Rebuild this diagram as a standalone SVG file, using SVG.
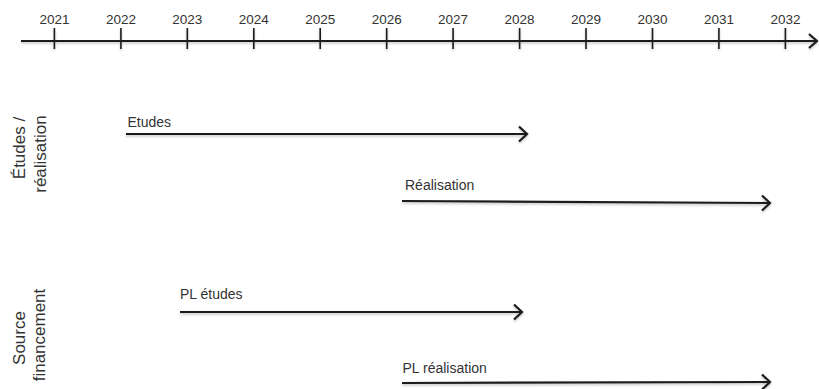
<svg xmlns="http://www.w3.org/2000/svg" width="819" height="389" viewBox="0 0 819 389">
  <defs>
    <style>
      .lbl { font-family: "Liberation Sans", Arial, sans-serif; fill: #333; }
      .yr { font-size: 13.5px; text-anchor: middle; }
      .bar { font-size: 14px; }
      .side { font-size: 17px; text-anchor: middle; }
      .ln { stroke: #1e1e1e; stroke-width: 2.2; fill: none; stroke-linecap: butt; }
      .tick { stroke: #1e1e1e; stroke-width: 1.6; }
      .head { stroke: #1e1e1e; stroke-width: 2.2; fill: none; stroke-linejoin: miter; }
    </style>
    <filter id="sh" x="-5%" y="-100%" width="110%" height="300%">
      <feDropShadow dx="0" dy="1.5" stdDeviation="1" flood-color="#000" flood-opacity="0.25"/>
    </filter>
  </defs>
  <rect width="819" height="389" fill="#fff"/>

  <g id="axis">
    <g class="lbl yr">
      <text x="54.4" y="24">2021</text>
      <text x="120.9" y="24">2022</text>
      <text x="187.3" y="24">2023</text>
      <text x="253.8" y="24">2024</text>
      <text x="320.2" y="24">2025</text>
      <text x="386.7" y="24">2026</text>
      <text x="453.1" y="24">2027</text>
      <text x="519.6" y="24">2028</text>
      <text x="586" y="24">2029</text>
      <text x="652.5" y="24">2030</text>
      <text x="718.9" y="24">2031</text>
      <text x="785.4" y="24">2032</text>
    </g>
    <g filter="url(#sh)">
      <line class="ln" x1="21" y1="41" x2="816" y2="41"/>
      <polyline class="head" points="809,34 817,41 809,48"/>
      <g class="tick">
        <line x1="54.4" y1="28" x2="54.4" y2="49"/>
        <line x1="120.9" y1="28" x2="120.9" y2="49"/>
        <line x1="187.3" y1="28" x2="187.3" y2="49"/>
        <line x1="253.8" y1="28" x2="253.8" y2="49"/>
        <line x1="320.2" y1="28" x2="320.2" y2="49"/>
        <line x1="386.7" y1="28" x2="386.7" y2="49"/>
        <line x1="453.1" y1="28" x2="453.1" y2="49"/>
        <line x1="519.6" y1="28" x2="519.6" y2="49"/>
        <line x1="586" y1="28" x2="586" y2="49"/>
        <line x1="652.5" y1="28" x2="652.5" y2="49"/>
        <line x1="718.9" y1="28" x2="718.9" y2="49"/>
        <line x1="785.4" y1="28" x2="785.4" y2="49"/>
      </g>
    </g>
  </g>

  <g id="row-etudes-realisation">
    <text class="lbl side" transform="translate(25,148) rotate(-90)">Études /</text>
    <text class="lbl side" transform="translate(46,154) rotate(-90)">réalisation</text>
  </g>

  <g id="row-source-financement">
    <text class="lbl side" transform="translate(25,338) rotate(-90)">Source</text>
    <text class="lbl side" transform="translate(45,335) rotate(-90)">financement</text>
  </g>

  <g id="bar-etudes">
    <text class="lbl bar" x="127.5" y="127">Etudes</text>
  </g>
  <g id="bar-realisation">
    <text class="lbl bar" x="405" y="189.5">Réalisation</text>
  </g>
  <g id="bar-pl-etudes">
    <text class="lbl bar" x="180" y="299">PL études</text>
  </g>
  <g id="bar-pl-realisation">
    <text class="lbl bar" x="402.5" y="373">PL réalisation</text>
  </g>

  <g id="connectors" filter="url(#sh)">
    <line class="ln" x1="126" y1="134" x2="526" y2="134"/>
    <polyline class="head" points="519,126.5 527,134 519,141.5"/>

    <line class="ln" x1="402" y1="201" x2="769" y2="203"/>
    <polyline class="head" points="762,195.5 770,203 762,210.5"/>

    <line class="ln" x1="180" y1="312" x2="521" y2="312"/>
    <polyline class="head" points="514,304.5 522,312 514,319.5"/>

    <line class="ln" x1="402" y1="383" x2="769" y2="382"/>
    <polyline class="head" points="762,374.5 770,382 762,389.5"/>
  </g>
</svg>
